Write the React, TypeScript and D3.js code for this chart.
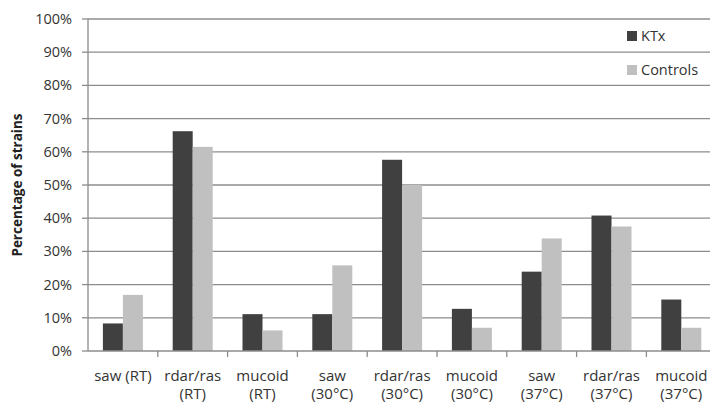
import React from "react";
import * as d3 from "d3";

const categories = [
  ["saw (RT)"],
  ["rdar/ras", "(RT)"],
  ["mucoid", "(RT)"],
  ["saw", "(30°C)"],
  ["rdar/ras", "(30°C)"],
  ["mucoid", "(30°C)"],
  ["saw", "(37°C)"],
  ["rdar/ras", "(37°C)"],
  ["mucoid", "(37°C)"],
];
const ktx = [8.3, 66.2, 11.1, 11.1, 57.6, 12.7, 23.9, 40.8, 15.5];
const controls = [16.9, 61.5, 6.2, 25.8, 50.0, 7.0, 33.9, 37.5, 7.0];
const seriesNames = ["KTx", "Controls"];
const seriesColors = ["#404040", "#c0c0c0"];
const yTicks = [0, 10, 20, 30, 40, 50, 60, 70, 80, 90, 100];

const W = 710;
const H = 405;
const left = 88;
const top = 19;
const bottom = 351;
const step = 69.8;
const font = "'Open Sans', 'Liberation Sans', sans-serif";

export default function App() {
  const y = d3.scaleLinear().domain([0, 100]).range([bottom, top]);
  const x = d3
    .scaleBand()
    .domain(categories.map((_, i) => String(i)))
    .range([left, left + step * categories.length])
    .paddingInner(0)
    .paddingOuter(0);
  const bw = 20;
  const off = (x.bandwidth() - 2 * bw) / 2;
  const series = [ktx, controls];
  const grid = "#8c8c8c";

  return (
    <svg
      width={W}
      height={H}
      style={{ position: "absolute", left: 0, top: 0, background: "#fff" }}
      fontFamily={font}
    >
      {yTicks.map((t) => (
        <g key={t}>
          {t > 0 && (
            <line x1={left} x2={W} y1={y(t)} y2={y(t)} stroke={grid} strokeWidth={1.3} />
          )}
          <line x1={left - 6} x2={left} y1={y(t)} y2={y(t)} stroke={grid} strokeWidth={1.3} />
          <text
            x={left - 16}
            y={y(t)}
            dy="0.35em"
            textAnchor="end"
            fontSize={14.5}
            fill="#333"
          >
            {t}%
          </text>
        </g>
      ))}
      {series.map((vals, s) =>
        vals.map((v, i) => (
          <rect
            key={s + "-" + i}
            x={(x(String(i)) as number) + off + s * bw}
            y={y(v)}
            width={bw}
            height={bottom - y(v)}
            fill={seriesColors[s]}
          />
        ))
      )}
      <line x1={left} x2={left} y1={top} y2={bottom} stroke={grid} strokeWidth={1.3} />
      <line x1={left} x2={W} y1={bottom} y2={bottom} stroke={grid} strokeWidth={1.3} />
      {categories.map((_, i) => (
        <line
          key={"t" + i}
          x1={(x(String(i)) as number) + step}
          x2={(x(String(i)) as number) + step}
          y1={bottom}
          y2={bottom + 6}
          stroke={grid}
          strokeWidth={1.3}
        />
      ))}
      {categories.map((lines, i) => (
        <text
          key={"c" + i}
          x={(x(String(i)) as number) + step / 2}
          y={381}
          textAnchor="middle"
          fontSize={15}
          fill="#333"
        >
          {lines.map((l, j) => (
            <tspan key={j} x={(x(String(i)) as number) + step / 2} dy={j === 0 ? 0 : 18}>
              {l}
            </tspan>
          ))}
        </text>
      ))}
      <text
        transform={`translate(22,${(top + bottom) / 2}) rotate(-90)`}
        textAnchor="middle"
        fontSize={13.5}
        fontWeight="bold"
        fill="#222"
      >
        Percentage of strains
      </text>
      {seriesNames.map((n, i) => (
        <g key={n} transform={`translate(627,${36 + i * 34})`}>
          <rect x={0} y={-5} width={10} height={10} fill={seriesColors[i]} />
          <text x={14} y={0} dy="0.35em" fontSize={14.5} fill="#333">
            {n}
          </text>
        </g>
      ))}
    </svg>
  );
}
